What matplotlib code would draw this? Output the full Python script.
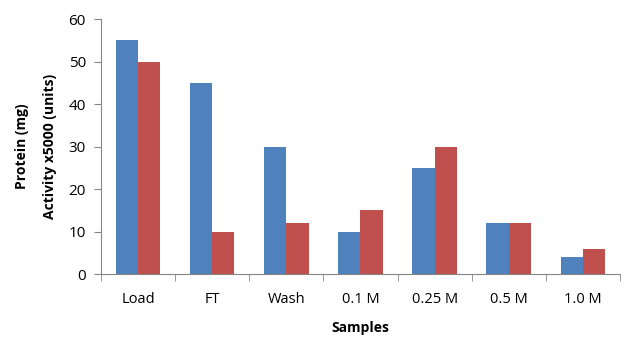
import numpy as np
import matplotlib.pyplot as plt

samples = ['Load', 'FT', 'Wash', '0.1 M', '0.25 M', '0.5 M', '1.0 M']
protein = [55, 45, 30, 10, 25, 12, 4]
activity = [50, 10, 12, 15, 30, 12, 6]

plt.rcParams['font.family'] = ['Open Sans', 'DejaVu Sans']

fig = plt.figure(figsize=(6.28, 3.41), dpi=100)
ax = fig.add_axes([0.161, 0.196, 0.826, 0.748])

x = np.arange(len(samples))
w = 0.3
ax.bar(x - w / 2, protein, w, color='#4F81BD')
ax.bar(x + w / 2, activity, w, color='#C0504D')

ax.set_xlim(-0.5, len(samples) - 0.5)
ax.set_ylim(0, 60)
ax.set_yticks(range(0, 61, 10))
ax.set_xticks(x)
ax.set_xticklabels(samples, fontsize=10.5)
ax.tick_params(axis='x', length=0, pad=13)
ax.set_xticks(np.arange(-0.5, len(samples)), minor=True)
ax.tick_params(axis='x', which='minor', length=5, color='#868686')
ax.tick_params(axis='y', labelsize=11, length=5, color='#868686', pad=6)

for s in ['top', 'right']:
    ax.spines[s].set_visible(False)
for s in ['left', 'bottom']:
    ax.spines[s].set_color('#868686')

ax.set_xlabel('Samples', fontsize=10, fontweight='bold', labelpad=10)
ax.set_ylabel('Protein (mg)\nActivity x5000 (units)', fontsize=10,
              fontweight='bold', labelpad=8, linespacing=2.3)

fig.savefig('out.png', dpi=100)
